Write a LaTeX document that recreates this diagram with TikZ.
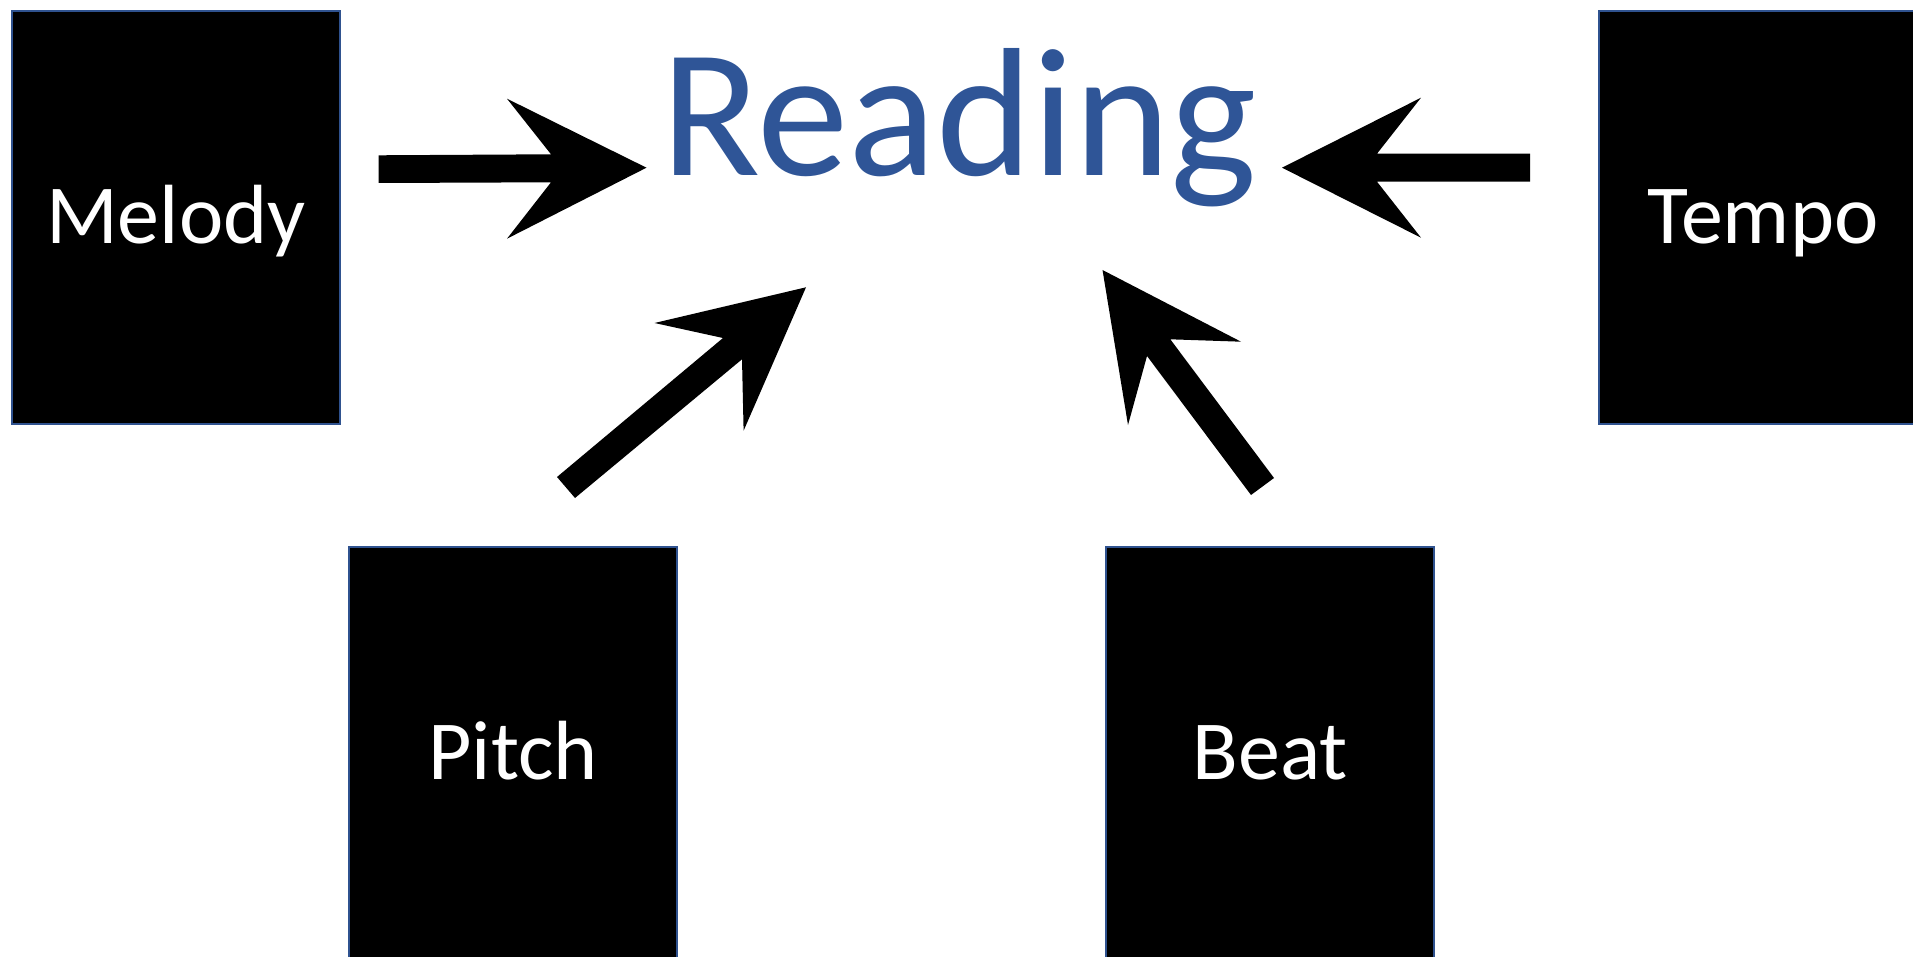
\documentclass[tikz,border=0pt]{standalone}
\usepackage{fontspec}
\setmainfont{Carlito}
\definecolor{readblue}{RGB}{47,85,151}
\definecolor{edgeblue}{RGB}{47,82,143}
\tikzset{
  box/.style={draw=edgeblue, line width=1.5pt, fill=black, text=white,
    minimum width=328pt, minimum height=413pt, inner sep=0pt,
    font=\fontsize{84}{100}\selectfont, text height=52pt, text depth=0pt},
  blockarrow/.style={fill=black, draw=none}
}
\begin{document}
\begin{tikzpicture}[x=1pt,y=-1pt]
\useasboundingbox (0,0) rectangle (1913,957);
\clip (0,0) rectangle (1913,957);
\node[box] (melody) at (175.8,217.3) {Melody};
\node[box] (tempo) at (1763,217.3) {Tempo};
\node[box] (pitch) at (513.2,753.5) {Pitch};
\node[box] (beat) at (1270,753.5) {Beat};
\node[font=\fontsize{183}{220}\selectfont, text=readblue, anchor=base, inner sep=0pt] (reading) at (959,176) {Reading};
% left arrow (Melody -> Reading)
\fill[blockarrow] (378.5,155.3) -- (551,154.3) -- (507,98.7) -- (646.5,167.7) -- (507,238.7) -- (551,182.3) -- (378.5,183) -- cycle;
% right arrow (Tempo -> Reading)
\fill[blockarrow] (1530,153.7) -- (1377,153.7) -- (1421,97.7) -- (1282,167.7) -- (1421,237.7) -- (1377,181.7) -- (1530,181.7) -- cycle;
% pitch arrow
\fill[blockarrow] (557,477) -- (723,338) -- (654.5,323) -- (806,287.3) -- (743.6,430.7) -- (742,359.3) -- (575,498) -- cycle;
% beat arrow
\fill[blockarrow] (1251,495) -- (1147,356) -- (1128,425) -- (1102.5,270) -- (1241,341.7) -- (1170.3,339.3) -- (1274,478) -- cycle;
\end{tikzpicture}
\end{document}
